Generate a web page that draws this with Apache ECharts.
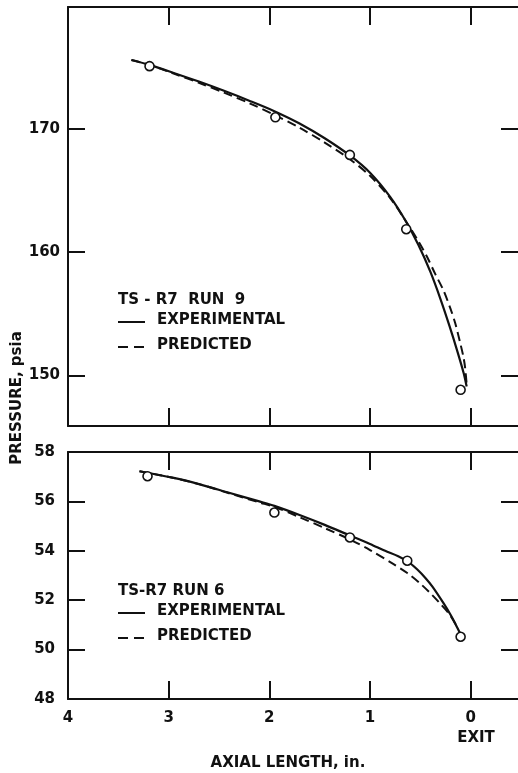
<!DOCTYPE html>
<html>
<head>
<meta charset="utf-8">
<script src="https://cdn.jsdelivr.net/npm/echarts@6/dist/echarts.min.js"></script>
<style>
  html, body { margin: 0; padding: 0; background: #fff; }
  #chart { width: 518px; height: 773px; }
</style>
</head>
<body>
<div id="chart"></div>
<script>
// TS-R7 Run 9 (upper panel): axial length from exit (in.) vs pressure (psia)
var run9MeasX = [3.19, 1.94, 1.20, 0.64, 0.10];
var run9MeasP = [175.1, 170.95, 167.9, 161.87, 148.84];
var run9ExpX  = [3.37, 3.19, 2.95, 2.70, 2.45, 2.20, 1.95, 1.70, 1.45, 1.20, 1.00, 0.80, 0.65, 0.52, 0.40, 0.30, 0.21, 0.13, 0.07, 0.04];
var run9ExpP  = [175.6, 175.2, 174.55, 173.85, 173.1, 172.3, 171.45, 170.45, 169.25, 167.85, 166.45, 164.5, 162.6, 160.6, 158.4, 156.2, 154.0, 151.9, 150.2, 149.1];
var run9PredX = [3.37, 3.19, 2.95, 2.70, 2.45, 2.20, 1.95, 1.70, 1.45, 1.20, 1.00, 0.80, 0.65, 0.52, 0.435, 0.35, 0.27, 0.20, 0.154, 0.10, 0.072, 0.055, 0.038];
var run9PredP = [175.6, 175.2, 174.5, 173.75, 172.95, 172.1, 171.15, 170.1, 168.9, 167.55, 166.2, 164.4, 162.6, 160.9, 159.65, 158.2, 156.9, 155.4, 154.25, 152.5, 151.5, 150.6, 149.1];

// TS-R7 Run 6 (lower panel)
var run6MeasX = [3.21, 1.95, 1.20, 0.63, 0.10];
var run6MeasP = [57.02, 55.55, 54.54, 53.6, 50.52];
var run6ExpX  = [3.29, 2.95, 2.69, 2.40, 2.10, 1.95, 1.70, 1.45, 1.20, 1.00, 0.85, 0.72, 0.62, 0.53, 0.45, 0.38, 0.27, 0.20, 0.15, 0.104];
var run6ExpP  = [57.22, 56.95, 56.69, 56.35, 56.0, 55.82, 55.45, 55.05, 54.62, 54.28, 54.0, 53.78, 53.55, 53.24, 52.9, 52.55, 51.88, 51.41, 51.03, 50.65];
var run6PredX = [3.29, 2.95, 2.69, 2.40, 2.10, 1.95, 1.70, 1.45, 1.20, 1.00, 0.77, 0.63, 0.50, 0.40, 0.30, 0.22, 0.15];
var run6PredP = [57.22, 56.95, 56.69, 56.33, 55.96, 55.78, 55.36, 54.92, 54.46, 54.03, 53.47, 53.1, 52.67, 52.28, 51.85, 51.48, 51.03];

// Axis ticks and labels
var xTickValues = [0, 1, 2, 3];
var xLabelValues = [0, 1, 2, 3, 4];
var run9TickValues = [150, 160, 170];
var run6TickValues = [50, 52, 54, 56];
var run6LabelValues = [48, 50, 52, 54, 56, 58];

function pairs(xs, ys) {
  return xs.map(function (x, i) { return [x, ys[i]]; });
}

var FONT = 'DejaVu Sans';
var INK = '#111';

function xAxisDef(grid, pos, withLabels) {
  return {
    type: 'value', gridIndex: grid, position: pos, inverse: true,
    min: -0.47, max: 4,
    axisLine: { show: true, onZero: false, lineStyle: { color: INK, width: 2 } },
    axisTick: { show: true, inside: true, length: 18, customValues: xTickValues,
                lineStyle: { color: INK, width: 2 } },
    axisLabel: { show: withLabels, customValues: xLabelValues, margin: 12,
                 fontFamily: FONT, fontWeight: 'bold', fontSize: 15, color: INK },
    splitLine: { show: false }
  };
}

function yAxisDef(grid, pos, min, max, ticks, labels, margin) {
  return {
    type: 'value', gridIndex: grid, position: pos, min: min, max: max,
    axisLine: { show: true, onZero: false,
                lineStyle: pos === 'left' ? { color: INK, width: 2 } : { color: '#c8c8c8', width: 1 } },
    axisTick: { show: true, inside: true, length: 17, customValues: ticks,
                lineStyle: { color: INK, width: 2 } },
    axisLabel: { show: !!labels, customValues: labels || ticks, margin: margin || 8,
                 fontFamily: FONT, fontWeight: 'bold', fontSize: 15, color: INK },
    splitLine: { show: false }
  };
}

function solidLine(xi, yi, data) {
  return { type: 'line', xAxisIndex: xi, yAxisIndex: yi, data: data, smooth: 0.3,
           showSymbol: false, silent: true, z: 2,
           lineStyle: { color: INK, width: 2.2, type: 'solid' } };
}
function dashedLine(xi, yi, data) {
  return { type: 'line', xAxisIndex: xi, yAxisIndex: yi, data: data, smooth: 0.3,
           showSymbol: false, silent: true, z: 2,
           lineStyle: { color: INK, width: 2, type: [9, 5] } };
}
function points(xi, yi, data) {
  return { type: 'scatter', xAxisIndex: xi, yAxisIndex: yi, data: data, symbol: 'circle',
           symbolSize: 9, z: 5,
           itemStyle: { color: '#fff', borderColor: INK, borderWidth: 1.6, opacity: 1 } };
}

function legendBlock(title, top) {
  var t = { fontFamily: FONT, fontWeight: 'bold', fontSize: 15, fill: INK };
  return [
    { type: 'text', left: 118, top: top - 9, style: Object.assign({ text: title }, t) },
    { type: 'line', shape: { x1: 118, y1: top + 20, x2: 145, y2: top + 20 },
      style: { stroke: INK, lineWidth: 2 } },
    { type: 'text', left: 157, top: top + 11, style: Object.assign({ text: 'EXPERIMENTAL' }, t) },
    { type: 'line', shape: { x1: 118, y1: top + 45, x2: 145, y2: top + 45 },
      style: { stroke: INK, lineWidth: 2, lineDash: [10, 6] } },
    { type: 'text', left: 157, top: top + 36, style: Object.assign({ text: 'PREDICTED' }, t) }
  ];
}

var chart = echarts.init(document.getElementById('chart'), null, { renderer: 'canvas' });

chart.setOption({
  animation: false,
  backgroundColor: '#fff',
  grid: [
    { left: 68, right: 0, top: 7, height: 419 },
    { left: 68, right: 0, top: 452, height: 247 }
  ],
  xAxis: [
    xAxisDef(0, 'bottom', false),
    xAxisDef(0, 'top', false),
    xAxisDef(1, 'bottom', true),
    xAxisDef(1, 'top', false)
  ],
  yAxis: [
    yAxisDef(0, 'left', 145.9, 179.9, run9TickValues, run9TickValues, 8),
    yAxisDef(0, 'right', 145.9, 179.9, run9TickValues, null),
    yAxisDef(1, 'left', 48, 58, run6TickValues, run6LabelValues, 13),
    yAxisDef(1, 'right', 48, 58, run6TickValues, null)
  ],
  series: [
    solidLine(0, 0, pairs(run9ExpX, run9ExpP)),
    dashedLine(0, 0, pairs(run9PredX, run9PredP)),
    points(0, 0, pairs(run9MeasX, run9MeasP)),
    solidLine(2, 2, pairs(run6ExpX, run6ExpP)),
    dashedLine(2, 2, pairs(run6PredX, run6PredP)),
    points(2, 2, pairs(run6MeasX, run6MeasP))
  ],
  graphic: [].concat(
    legendBlock('TS - R7  RUN  9', 302),
    legendBlock('TS-R7 RUN 6', 593),
    [
      { type: 'text', x: 476, y: 738,
        style: { text: 'EXIT', fontFamily: FONT, fontWeight: 'bold', fontSize: 15, fill: INK,
                 align: 'center', verticalAlign: 'middle' } },
      { type: 'text', x: 288, y: 763,
        style: { text: 'AXIAL LENGTH, in.', fontFamily: FONT, fontWeight: 'bold', fontSize: 15, fill: INK,
                 align: 'center', verticalAlign: 'middle' } },
      { type: 'text', x: 17, y: 398, rotation: Math.PI / 2,
        style: { text: 'PRESSURE, psia', fontFamily: FONT, fontWeight: 'bold', fontSize: 15, fill: INK,
                 align: 'center', verticalAlign: 'middle' } }
    ]
  )
});
</script>
</body>
</html>
